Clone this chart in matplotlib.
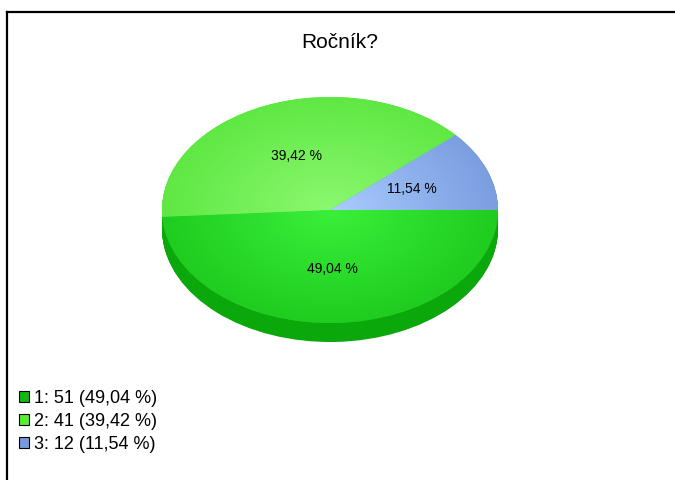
import numpy as np
import matplotlib.pyplot as plt
from matplotlib.lines import Line2D
from matplotlib.colors import to_rgb

plt.rcParams['font.family'] = ['Liberation Sans', 'DejaVu Sans']

title = 'Ročník?'
categories = ['1', '2', '3']
counts = [51, 41, 12]
percents = [49.04, 39.42, 11.54]

top_colors = ['#1fcc1f', '#5fe843', '#7a9ee0']
light_colors = ['#3af03a', '#8cf870', '#aaccff']
side_colors = ['#0aa80a', '#3cc82a', '#5a7ec0']
legend_colors = ['#10b810', '#55ee33', '#7799dd']

W, H = 675, 480
fig = plt.figure(figsize=(W / 100, H / 100), dpi=100)

# frame (top and left edge only)
fig.add_artist(Line2D([7 / W, 7 / W], [0, 1 - 12 / H], transform=fig.transFigure, color='black', lw=1.6))
fig.add_artist(Line2D([7 / W, 1], [1 - 12 / H, 1 - 12 / H], transform=fig.transFigure, color='black', lw=1.6))

fig.text(340 / W, 1 - 42 / H, title, ha='center', va='center', fontsize=15)

# pie axes: ellipse with rx=168px, ry=113px, centre (330, 210)
rx, ry, cx, cy = 168, 113, 330, 210
xl, yl = (-1.2, 1.2), (-1.4, 1.2)
left = cx + xl[0] * rx
bottom_px = cy - yl[0] * ry
ax = fig.add_axes([left / W, 1 - bottom_px / H, (xl[1] - xl[0]) * rx / W, (yl[1] - yl[0]) * ry / H])

depth = 19 / ry
fmt = lambda p: f'{p:.2f} %'.replace('.', ',')

# side of the 3d pie
for d in np.linspace(depth, 0.005, 30):
    ax.pie(percents, colors=side_colors, startangle=0, counterclock=False,
           center=(0, -d), radius=1, normalize=True)

wedges, _, autotexts = ax.pie(percents, colors=top_colors, startangle=0, counterclock=False,
                              radius=1, autopct=fmt, pctdistance=0.52,
                              textprops={'fontsize': 10, 'color': 'black'})

# radial gradient on top face
xx, yy = np.meshgrid(np.linspace(-1, 1, 300), np.linspace(-1, 1, 300))
rr = np.clip(np.sqrt(xx ** 2 + yy ** 2), 0, 1)[..., None]
for w, c0, c1 in zip(wedges, light_colors, top_colors):
    img = np.array(to_rgb(c0)) * (1 - rr) + np.array(to_rgb(c1)) * rr
    im = ax.imshow(img, extent=[-1, 1, -1, 1], origin='lower', zorder=w.get_zorder() + 0.1, interpolation='bilinear')
    im.set_clip_path(w)
for t in autotexts:
    t.set_zorder(10)

ax.set_aspect('auto')
ax.set_xlim(*xl)
ax.set_ylim(*yl)
ax.axis('off')

# legend
labels = [f'{c}: {n} ({fmt(p)})' for c, n, p in zip(categories, counts, percents)]
handles = [plt.Rectangle((0, 0), 1, 1, facecolor=col, edgecolor='black', lw=0.8) for col in legend_colors]
fig.legend(handles, labels, loc='upper left', bbox_to_anchor=(19 / W, 1 - 390 / H),
           frameon=False, fontsize=13, handlelength=0.55, handleheight=0.55,
           handletextpad=0.3, labelspacing=0.32, borderaxespad=0, borderpad=0)

fig.savefig('out.png', dpi=100)
